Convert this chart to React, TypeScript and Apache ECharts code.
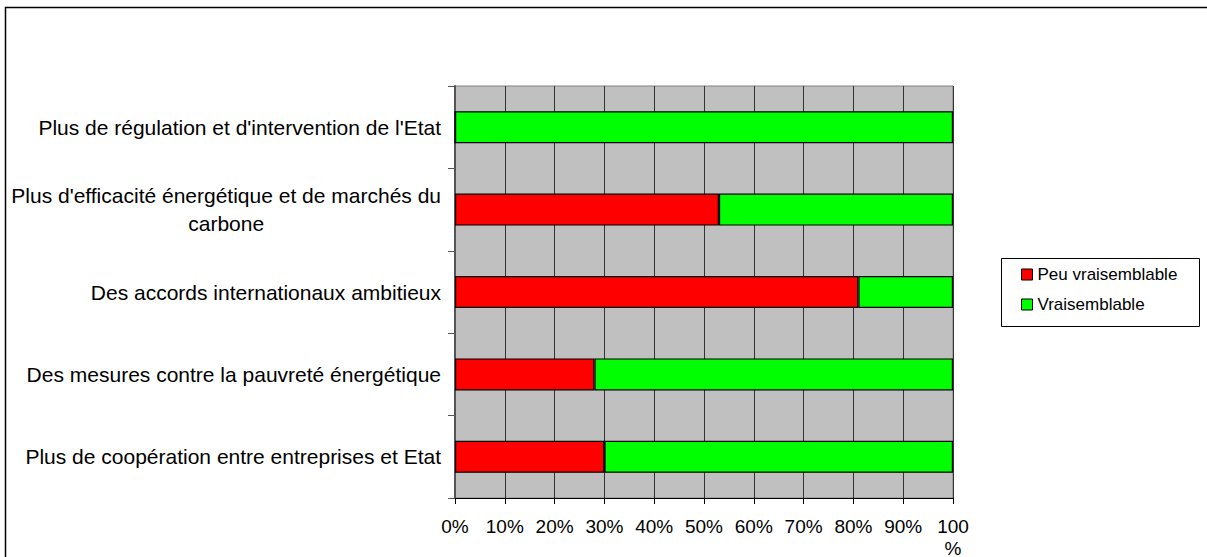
import React, { useEffect, useRef } from "react";
import * as echarts from "echarts";

const categories = [
  "Plus de régulation et d'intervention de l'Etat",
  "Plus d'efficacité énergétique et de marchés du\ncarbone",
  "Des accords internationaux ambitieux",
  "Des mesures contre la pauvreté énergétique",
  "Plus de coopération entre entreprises et Etat",
];
const peuVraisemblable = [0, 53, 81, 28, 30];
const vraisemblable = [100, 47, 19, 72, 70];
const seriesNames = ["Peu vraisemblable", "Vraisemblable"];

const FONT = "'Liberation Sans', Arial, sans-serif";

export default function App() {
  const ref = useRef<HTMLDivElement>(null);
  useEffect(() => {
    if (!ref.current) return;
    const chart = echarts.init(ref.current, undefined, { renderer: "svg" });
    chart.setOption({
      animation: false,
      backgroundColor: "#ffffff",
      textStyle: { fontFamily: FONT },
      grid: {
        left: 455,
        right: 254,
        top: 86,
        bottom: 59,
        containLabel: false,
        outerBoundsMode: "none",
        show: true,
        backgroundColor: "#C0C0C0",
        borderColor: "#808080",
        borderWidth: 1,
      },
      legend: {
        orient: "vertical",
        left: 1021,
        top: 266,
        padding: 0,
        itemWidth: 11,
        itemHeight: 11,
        itemGap: 13,
        icon: "rect",
        itemStyle: { borderColor: "#000", borderWidth: 1 },
        textStyle: { fontFamily: FONT, fontSize: 17, color: "#000" },
        data: seriesNames,
      },
      xAxis: {
        type: "value",
        min: 0,
        max: 100,
        interval: 10,
        axisLine: { show: true, lineStyle: { color: "#000", width: 1 } },
        axisTick: { show: true, length: 6, lineStyle: { color: "#000" } },
        splitLine: { show: true, lineStyle: { color: "#333", width: 1 } },
        axisLabel: {
          fontFamily: FONT,
          fontSize: 19,
          color: "#000",
          margin: 17,
          lineHeight: 22,
          verticalAlign: "top",
          formatter: (v: number) => (v === 100 ? "100\n%" : v + "%"),
        },
      },
      yAxis: {
        type: "category",
        inverse: true,
        data: categories,
        axisLine: { show: true, lineStyle: { color: "#555", width: 2 } },
        axisTick: { show: true, length: 7, lineStyle: { color: "#555" } },
        splitLine: { show: false },
        axisLabel: {
          fontFamily: FONT,
          fontSize: 21,
          color: "#000",
          margin: 14,
          lineHeight: 28,
          formatter: (v: string) =>
            v
              .split("\n")
              .map((s) => "{a|" + s + "}")
              .join("\n"),
          rich: {
            a: { fontFamily: FONT, fontSize: 21, color: "#000", align: "center", lineHeight: 28 },
          },
        },
      },
      series: [
        {
          name: seriesNames[0],
          type: "bar",
          stack: "total",
          barWidth: 32,
          data: peuVraisemblable,
          itemStyle: { color: "#FF0000", borderColor: "#000", borderWidth: 1.2 },
        },
        {
          name: seriesNames[1],
          type: "bar",
          stack: "total",
          barWidth: 32,
          data: vraisemblable,
          itemStyle: { color: "#00FF00", borderColor: "#000", borderWidth: 1.2 },
        },
      ],
      graphic: [
        {
          type: "rect",
          shape: { x: 5.5, y: 7.5, width: 1300, height: 700 },
          style: { fill: "none", stroke: "#000", lineWidth: 1.5 },
          silent: true,
        },
        {
          type: "rect",
          shape: { x: 1001.5, y: 258.5, width: 198, height: 68 },
          style: { fill: "none", stroke: "#000", lineWidth: 1 },
          silent: true,
        },
      ],
    });
    return () => chart.dispose();
  }, []);
  return (
    <div
      ref={ref}
      style={{ position: "fixed", left: 0, top: 0, width: 1207, height: 557 }}
    />
  );
}
